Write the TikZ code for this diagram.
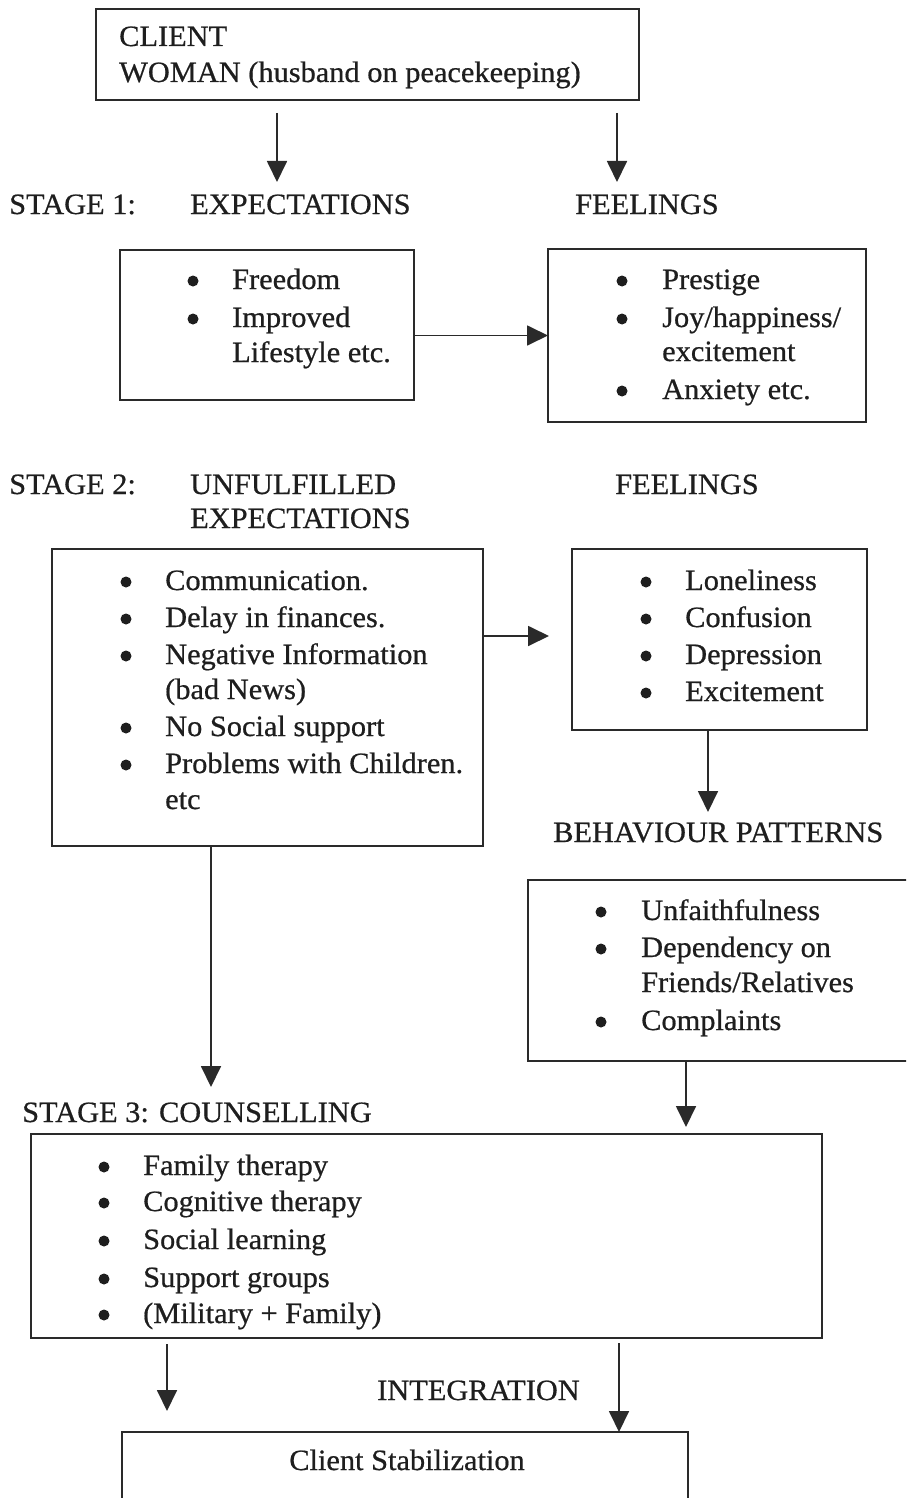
\documentclass[tikz,border=0pt]{standalone}
\usepackage{fontspec}
\setmainfont[FakeStretch=1.03,FakeBold=0.6]{Liberation Serif}
\usetikzlibrary{arrows.meta}
\definecolor{ink}{HTML}{2A2A2A}
\definecolor{txtc}{HTML}{1E1E1E}
\newcommand{\fsz}{\fontsize{29.5}{37}\selectfont}
\tikzset{
  box/.style={draw=ink, line width=1.8pt, anchor=north west, inner sep=0pt, outer sep=0pt},
  txt/.style={anchor=base west, inner sep=0pt, font=\fsz, text=txtc},
  bul/.style={circle, fill=txtc, inner sep=0pt, minimum size=11pt, yshift=8pt},
  arr/.style={draw=ink, line width=1.8pt, -{Triangle[length=21pt,width=20pt]}}
}
\begin{document}
\begin{tikzpicture}[x=1pt,y=1pt]
\useasboundingbox[fill=white] (0,0) rectangle (906,-1498);
\clip (0,0) rectangle (906,-1498);

% ---------- top client box
\node[box, minimum width=543pt, minimum height=91pt] (client) at (96,-9) {};
\node[txt] (cl1) at (119,-46) {CLIENT};
\node[txt] (cl2) at (119,-82) {WOMAN (husband on peacekeeping)};

% ---------- stage 1 labels
\node[txt] (s1) at (9,-214) {STAGE 1:};
\node[txt] (exp1lbl) at (190,-214) {EXPECTATIONS};
\node[txt] (feel1lbl) at (575,-214) {FEELINGS};

\coordinate (a1s) at (277,-113);
\coordinate (a1e) at (277,-182);
\coordinate (a2s) at (617,-113);
\coordinate (a2e) at (617,-182);
\draw[arr] (a1s) -- (a1e);
\draw[arr] (a2s) -- (a2e);

% ---------- stage 1 boxes
\node[box, minimum width=294pt, minimum height=150pt] (e1) at (120,-250) {};
\node[bul] (e1b1) at (193,-289) {};
\node[txt] (e1t1) at (232,-289) {Freedom};
\node[bul] (e1b2) at (193,-327) {};
\node[txt] (e1t2) at (232,-327) {Improved};
\node[txt] (e1t3) at (232,-362) {Lifestyle etc.};

\node[box, minimum width=318pt, minimum height=173pt] (f1) at (548,-249) {};
\node[bul] (f1b1) at (622,-289) {};
\node[txt] (f1t1) at (662,-289) {Prestige};
\node[bul] (f1b2) at (622,-327) {};
\node[txt] (f1t2) at (662,-327) {Joy/happiness/};
\node[txt] (f1t3) at (662,-361) {excitement};
\node[bul] (f1b3) at (622,-399) {};
\node[txt] (f1t4) at (662,-399) {Anxiety etc.};

\draw[arr] (e1.east |- f1.west) -- (f1.west);

% ---------- stage 2 labels
\node[txt] (s2) at (9,-494) {STAGE 2:};
\node[txt] (ue1) at (190,-494) {UNFULFILLED};
\node[txt] (ue2) at (190,-528) {EXPECTATIONS};
\node[txt] (feel2lbl) at (615,-494) {FEELINGS};

% ---------- stage 2 boxes
\node[box, minimum width=431pt, minimum height=297pt] (e2) at (52,-549) {};
\node[bul] (e2b1) at (126,-590) {};
\node[txt] (e2t1) at (165,-590) {Communication.};
\node[bul] (e2b2) at (126,-627) {};
\node[txt] (e2t2) at (165,-627) {Delay in finances.};
\node[bul] (e2b3) at (126,-664) {};
\node[txt] (e2t3) at (165,-664) {Negative Information};
\node[txt] (e2t4) at (165,-699) {(bad News)};
\node[bul] (e2b4) at (126,-736) {};
\node[txt] (e2t5) at (165,-736) {No Social support};
\node[bul] (e2b5) at (126,-773) {};
\node[txt] (e2t6) at (165,-773) {Problems with Children.};
\node[txt] (e2t7) at (165,-809) {etc};

\node[box, minimum width=295pt, minimum height=181pt] (f2) at (572,-549) {};
\node[bul] (f2b1) at (646,-590) {};
\node[txt] (f2t1) at (685,-590) {Loneliness};
\node[bul] (f2b2) at (646,-627) {};
\node[txt] (f2t2) at (685,-627) {Confusion};
\node[bul] (f2b3) at (646,-664) {};
\node[txt] (f2t3) at (685,-664) {Depression};
\node[bul] (f2b4) at (646,-701) {};
\node[txt] (f2t4) at (685,-701) {Excitement};

\coordinate (a3e) at (549,-636);
\draw[arr] (e2.east |- a3e) -- (a3e);

\coordinate (a4e) at (708,-812);
\draw[arr] (f2.south -| a4e) -- (a4e);

% ---------- behaviour patterns
\node[txt] (bp) at (553,-842) {BEHAVIOUR PATTERNS};
\node[box, minimum width=400pt, minimum height=181pt] (beh) at (528,-880) {};
\node[bul] (bb1) at (601,-920) {};
\node[txt] (bt1) at (641,-920) {Unfaithfulness};
\node[bul] (bb2) at (601,-957) {};
\node[txt] (bt2) at (641,-957) {Dependency on};
\node[txt] (bt3) at (641,-992) {Friends/Relatives};
\node[bul] (bb3) at (601,-1030) {};
\node[txt] (bt4) at (641,-1030) {Complaints};

% ---------- stage 3
\coordinate (a5e) at (211,-1087);
\draw[arr] (e2.south -| a5e) -- (a5e);

\node[txt] (s3) at (22,-1122) {STAGE 3: COUNSELLING};
\node[box, minimum width=791pt, minimum height=204pt] (cou) at (31,-1134) {};
\node[bul] (cb1) at (104,-1175) {};
\node[txt] (ct1) at (143,-1175) {Family therapy};
\node[bul] (cb2) at (104,-1211) {};
\node[txt] (ct2) at (143,-1211) {Cognitive therapy};
\node[bul] (cb3) at (104,-1249) {};
\node[txt] (ct3) at (143,-1249) {Social learning};
\node[bul] (cb4) at (104,-1287) {};
\node[txt] (ct4) at (143,-1287) {Support groups};
\node[bul] (cb5) at (104,-1323) {};
\node[txt] (ct5) at (143,-1323) {(Military + Family)};

\coordinate (a6e) at (686,-1127);
\draw[arr] (beh.south -| a6e) -- (a6e);

% ---------- integration
\coordinate (a7s) at (167,-1344);
\coordinate (a7e) at (167,-1411);
\draw[arr] (a7s) -- (a7e);
\node[txt] (integ) at (377,-1400) {INTEGRATION};

\node[box, minimum width=566pt, minimum height=120pt] (stab) at (122,-1432) {};
\node[anchor=base, inner sep=0pt, font=\fsz, text=txtc] (stabt) at (407,-1470) {Client Stabilization};

\coordinate (a8s) at (619,-1343);
\draw[arr] (a8s) -- (a8s |- stab.north);
\end{tikzpicture}
\end{document}
